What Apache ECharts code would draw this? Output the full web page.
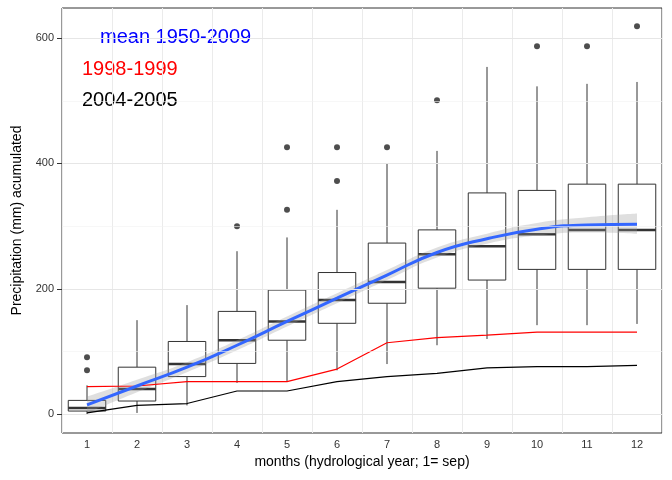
<!doctype html>
<html>
<head>
<meta charset="utf-8">
<script src="https://cdn.jsdelivr.net/npm/echarts@6/dist/echarts.min.js"></script>
<style>html,body{margin:0}#main{width:672px;height:480px}</style>
</head>
<body>
<div id="main"></div>
<script>
var months = ['1','2','3','4','5','6','7','8','9','10','11','12'];
// [low whisker, Q1, median, Q3, high whisker]
var boxes = [
  [0, 5, 10, 22, 46],
  [2, 21, 40, 75, 150],
  [14, 60, 80, 116, 174],
  [50, 81, 118, 164, 260],
  [53, 118, 148, 198, 282],
  [70, 145, 182, 226, 326],
  [80, 177, 211, 273, 400],
  [110, 201, 255, 294, 420],
  [120, 214, 268, 353, 554],
  [142, 231, 287, 357, 523],
  [142, 231, 294, 367, 527],
  [144, 231, 294, 367, 530]
];
var outliers = [[0, 91], [0, 70], [3, 300], [4, 326], [4, 426], [5, 372], [5, 426],
  [6, 426], [7, 501], [9, 587], [10, 587], [11, 619]];
var y1998 = [44, 45, 52, 52, 52, 72, 114, 122, 126, 131, 131, 131];
var y2004 = [2, 14, 17, 37, 37, 52, 60, 65, 74, 76, 76, 78];
var meanFit = [15, 45, 75, 110, 148, 185, 222, 258, 280, 295, 302, 303];
var bandLow = [2, 35, 67, 102, 140, 177, 214, 250, 272, 285, 290, 288];
var bandHigh = [28, 55, 83, 118, 156, 193, 230, 266, 288, 305, 314, 320];
var yTicks = [0, 200, 400, 600];

var chart = echarts.init(document.getElementById('main'));
var gridLines = [];
for (var v = 0; v <= 600; v += 100) {
  gridLines.push({yAxis: v, lineStyle: {color: v % 200 === 0 ? '#e6e6e6' : '#f2f2f2', width: v % 200 === 0 ? 1 : 0.6, type: 'solid'}});
}
var boxData = boxes.map(function (b, i) { return [i].concat(b); });

function renderBox(params, api) {
  var x = api.value(0);
  var lo = api.coord([x, api.value(1)]), q1 = api.coord([x, api.value(2)]),
      md = api.coord([x, api.value(3)]), q3 = api.coord([x, api.value(4)]),
      hi = api.coord([x, api.value(5)]);
  var w = api.size([1, 0])[0] * 0.75;
  var cx = lo[0], l = cx - w / 2;
  var ls = {stroke: '#333', lineWidth: 1};
  return {type: 'group', children: [
    {type: 'line', shape: {x1: cx, y1: lo[1], x2: cx, y2: q1[1]}, style: ls},
    {type: 'line', shape: {x1: cx, y1: q3[1], x2: cx, y2: hi[1]}, style: ls},
    {type: 'rect', shape: {x: l, y: q3[1], width: w, height: q1[1] - q3[1]}, style: {fill: '#fff', stroke: '#333', lineWidth: 1}},
    {type: 'line', shape: {x1: l, y1: md[1], x2: l + w, y2: md[1]}, style: {stroke: '#333', lineWidth: 2.5}}
  ]};
}

chart.setOption({
  animation: false,
  grid: {left: 62, right: 10, top: 8, bottom: 47, show: true, borderColor: '#333', borderWidth: 1},
  xAxis: {
    type: 'category', data: months,
    name: 'months (hydrological year; 1= sep)', nameLocation: 'middle', nameGap: 20,
    nameTextStyle: {fontSize: 14, color: '#000', fontFamily: 'Liberation Sans'},
    axisLine: {show: false},
    axisTick: {alignWithLabel: true, lineStyle: {color: '#333'}},
    axisLabel: {color: '#333', fontSize: 11, margin: 6},
    splitLine: {show: true, interval: 0, lineStyle: {color: '#ebebeb'}}
  },
  yAxis: {
    type: 'value', min: -30, max: 648,
    name: 'Precipitation (mm) acumulated', nameLocation: 'middle', nameGap: 38,
    nameTextStyle: {fontSize: 14, color: '#000', fontFamily: 'Liberation Sans'},
    axisLine: {show: false},
    axisTick: {show: true, customValues: yTicks, lineStyle: {color: '#333'}},
    axisLabel: {customValues: yTicks, color: '#333', fontSize: 11},
    splitLine: {show: false}
  },
  graphic: [
    {type: 'text', left: 100, top: 27, style: {text: 'mean 1950-2009', fill: '#0000ff', fontSize: 20, fontFamily: 'Liberation Sans'}},
    {type: 'text', left: 82, top: 59, style: {text: '1998-1999', fill: '#ff0000', fontSize: 20, fontFamily: 'Liberation Sans'}},
    {type: 'text', left: 82, top: 90, style: {text: '2004-2005', fill: '#000', fontSize: 20, fontFamily: 'Liberation Sans'}}
  ],
  series: [
    {type: 'line', data: months.map(function () { return null; }), silent: true,
     markLine: {symbol: 'none', label: {show: false}, silent: true, data: gridLines}},
    {type: 'custom', data: boxData, renderItem: renderBox, encode: {x: 0, y: [1, 2, 3, 4, 5]}},
    {type: 'scatter', data: outliers, symbolSize: 6, itemStyle: {color: '#222'}},
    {type: 'line', data: bandLow, stack: 'band', symbol: 'none', lineStyle: {opacity: 0}, smooth: true},
    {type: 'line', data: bandHigh.map(function (h, i) { return h - bandLow[i]; }), stack: 'band', symbol: 'none',
     smooth: true, lineStyle: {opacity: 0}, areaStyle: {color: 'rgba(153,153,153,0.45)'}},
    {type: 'line', data: y1998, symbol: 'none', lineStyle: {color: '#ff0000', width: 1.2}},
    {type: 'line', data: y2004, symbol: 'none', lineStyle: {color: '#000', width: 1.2}},
    {type: 'line', data: meanFit, symbol: 'none', smooth: true, lineStyle: {color: '#3366ff', width: 3}}
  ]
});
</script>
</body>
</html>
